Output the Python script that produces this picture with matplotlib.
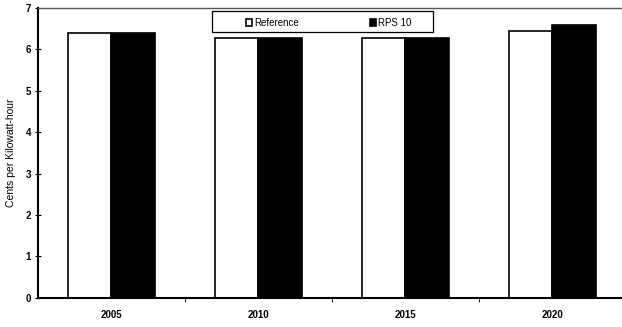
import matplotlib
matplotlib.use("Agg")
import matplotlib.pyplot as plt
from matplotlib.patches import Rectangle
import numpy as np

plt.rcParams['font.family'] = ['Liberation Sans', 'DejaVu Sans']

years = ["2005", "2010", "2015", "2020"]
reference = [6.40, 6.28, 6.28, 6.45]
rps10 = [6.40, 6.28, 6.28, 6.59]

fig = plt.figure(figsize=(6.22, 3.27), dpi=100)
ax = fig.add_axes([0.061, 0.089, 0.945, 0.887])

x = np.arange(len(years)) + 0.5
w = 0.295
ax.bar(x - w / 2, reference, w, color="white", edgecolor="black", linewidth=1.2,
       label="Reference", zorder=2)
ax.bar(x + w / 2, rps10, w, color="black", edgecolor="black", linewidth=1.2,
       label="RPS 10", zorder=2)

ax.set_xlim(0, len(years))
ax.set_ylim(0, 7)
ax.set_yticks(range(0, 8))
ax.set_xticks(x)
ax.set_xticklabels(years)
ax.set_xticks(np.arange(1, len(years)), minor=True)
ax.tick_params(axis="x", which="major", length=0, labelsize=7, pad=9)
ax.tick_params(axis="x", which="minor", length=3, direction="out")
ax.tick_params(axis="y", labelsize=7, length=4, direction="inout", pad=3)
for lab in ax.get_yticklabels() + ax.get_xticklabels():
    lab.set_fontweight("bold")

ax.set_ylabel("Cents per Kilowatt-hour", fontsize=7.5, labelpad=7)

ax.spines["left"].set_linewidth(1.5)
ax.spines["bottom"].set_linewidth(1.5)
ax.spines["top"].set_linewidth(1.0)
ax.spines["top"].set_color("#555555")
ax.spines["right"].set_visible(False)

# legend box drawn separately so the entries sit with Excel-like padding
ax.add_patch(Rectangle((0.296, 0.918), 0.376, 0.072, transform=ax.transAxes,
                       facecolor="white", edgecolor="black", linewidth=0.9,
                       zorder=3))
leg = ax.legend(loc="center left", bbox_to_anchor=(0.345, 0.949), ncol=2,
                fontsize=7, frameon=False,
                handlelength=0.7, handleheight=0.7, handletextpad=0.15,
                columnspacing=7.3, borderpad=0)
leg.set_zorder(4)

fig.savefig("out.png", dpi=100)
